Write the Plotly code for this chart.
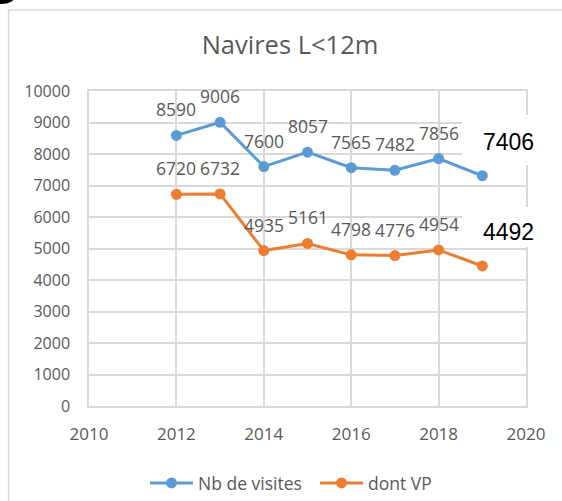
import plotly.graph_objects as go

# ---- data ----
years = [2012, 2013, 2014, 2015, 2016, 2017, 2018, 2019]
nb_visites = [8590, 9006, 7600, 8057, 7565, 7482, 7856, 7310]
dont_vp = [6720, 6732, 4935, 5161, 4798, 4776, 4954, 4445]
visites_labels = ["8590", "9006", "7600", "8057", "7565", "7482", "7856", ""]
vp_labels = ["6720", "6732", "4935", "5161", "4798", "4776", "4954", ""]
overlay_labels = ["7406", "4492"]
series_names = ["Nb de visites", "dont VP"]
title_text = "Navires L<12m"
x_ticks = [2010, 2012, 2014, 2016, 2018, 2020]
y_ticks = list(range(0, 10001, 1000))

BLUE = "#5B9BD5"
ORANGE = "#ED7D31"
GRAY_TXT = "#595959"
GRID = "#D9D9D9"
FONT = "Open Sans"

# plot-area pixel geometry helpers
W, H = 562, 501
L, R, T, B = 88.5, 526, 91, 406
def px(x):
    return (x - L) / (R - L)
def py(y):
    return (B - y) / (B - T)

fig = go.Figure()
for name, vals, col in [(series_names[0], nb_visites, BLUE), (series_names[1], dont_vp, ORANGE)]:
    fig.add_trace(go.Scatter(
        x=years, y=vals, name=name, mode="lines+markers",
        line=dict(color=col, width=3),
        marker=dict(color=col, size=11),
        hoverinfo="skip",
    ))

annotations = []
for vals, labs in [(nb_visites, visites_labels), (dont_vp, vp_labels)]:
    for xv, yv, lab in zip(years, vals, labs):
        if lab:
            annotations.append(dict(
                x=xv, y=yv, xref="x", yref="y", text=lab, showarrow=False,
                yshift=26, font=dict(family=FONT, size=17.5, color=GRAY_TXT),
            ))

shapes = [
    # outer chart border
    dict(type="rect", xref="paper", yref="paper",
         x0=px(8), x1=px(640), y0=py(640), y1=py(10),
         line=dict(color="#D9D9D9", width=1.5), fillcolor="rgba(0,0,0,0)", layer="below"),
    # black blob top-left
    dict(type="circle", xref="paper", yref="paper",
         x0=px(-12), x1=px(14), y0=py(4), y1=py(-10),
         line=dict(color="black", width=0), fillcolor="black"),
    # white boxes hiding last-point labels
    dict(type="rect", xref="paper", yref="paper",
         x0=px(462), x1=px(570), y0=py(165), y1=py(115),
         line=dict(width=0), fillcolor="white", layer="above"),
    dict(type="rect", xref="paper", yref="paper",
         x0=px(462), x1=px(570), y0=py(247), y1=py(207),
         line=dict(width=0), fillcolor="white", layer="above"),
]
for lab, ycen in zip(overlay_labels, [142, 232]):
    annotations.append(dict(
        x=px(508), y=py(ycen), xref="paper", yref="paper", text=lab,
        showarrow=False, xanchor="center", yanchor="middle",
        font=dict(family="Liberation Sans, Arial", size=23, color="black"),
    ))

fig.update_layout(
    width=W, height=H,
    margin=dict(l=L, r=W - R, t=T, b=H - B, pad=0),
    paper_bgcolor="white", plot_bgcolor="white",
    title=dict(text=title_text, x=290 / W, y=1 - 45 / H, xref="container", yref="container",
               xanchor="center", yanchor="middle",
               font=dict(family=FONT, size=25.5, color=GRAY_TXT)),
    showlegend=True,
    legend=dict(orientation="h", xref="container", yref="container",
                x=145 / W, y=1 - 483 / H, xanchor="left", yanchor="middle",
                font=dict(family=FONT, size=17.5, color=GRAY_TXT), bgcolor="rgba(0,0,0,0)",
                itemwidth=43, entrywidth=112, entrywidthmode="pixels"),
    xaxis=dict(range=[2010, 2020], tickvals=x_ticks, ticktext=[str(v) for v in x_ticks],
               showgrid=True, gridcolor=GRID, gridwidth=1.5, zeroline=False,
               showline=True, linecolor=GRID, linewidth=1.5, mirror=True,
               ticks="", ticklabelstandoff=12, automargin=False,
               tickfont=dict(family=FONT, size=17, color=GRAY_TXT), fixedrange=True),
    yaxis=dict(range=[0, 10000], tickvals=y_ticks, ticktext=[str(v) for v in y_ticks],
               showgrid=True, gridcolor=GRID, gridwidth=1.5, zeroline=False,
               showline=True, linecolor=GRID, linewidth=1.5, mirror=True,
               ticks="", ticklabelstandoff=14, automargin=False,
               tickfont=dict(family=FONT, size=16, color=GRAY_TXT), fixedrange=True),
    shapes=shapes,
    annotations=annotations,
)

fig.write_html("out.html", config={"displayModeBar": False},
               post_script="document.body.style.margin='0';document.body.style.padding='0';")
